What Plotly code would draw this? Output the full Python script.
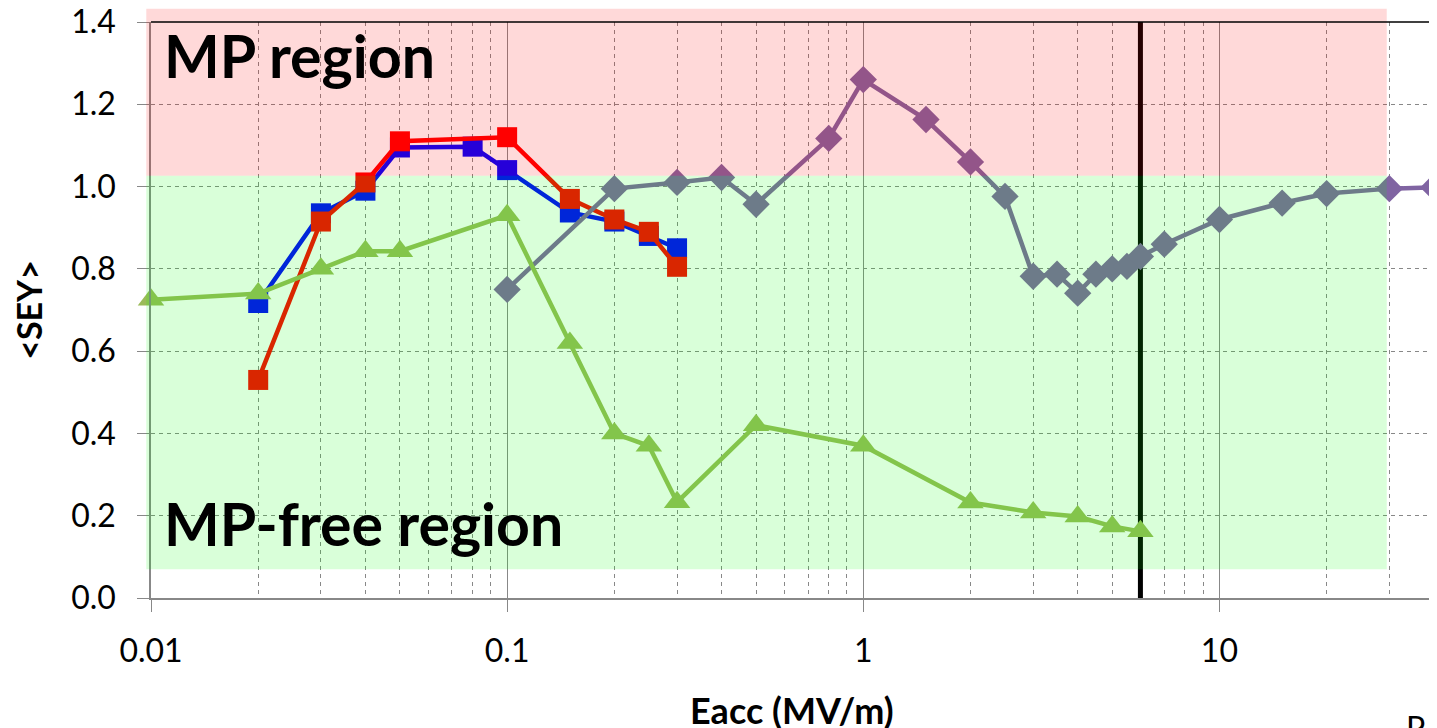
import numpy as np
import plotly.graph_objects as go

# series
x_blue = [0.02, 0.03, 0.04, 0.05, 0.08, 0.1, 0.15, 0.2, 0.25, 0.3]
y_blue = [0.717, 0.935, 0.99, 1.095, 1.097, 1.04, 0.937, 0.915, 0.88, 0.85]

x_red = [0.02, 0.03, 0.04, 0.05, 0.1, 0.15, 0.2, 0.25, 0.3]
y_red = [0.53, 0.915, 1.01, 1.11, 1.12, 0.97, 0.92, 0.89, 0.805]

x_purple = [0.1, 0.2, 0.3, 0.4, 0.5, 0.8, 1, 1.5, 2, 2.5, 3, 3.5, 4, 4.5, 5, 5.5, 6, 7, 10, 15, 20, 30, 40]
y_purple = [0.75, 0.995, 1.01, 1.022, 0.957, 1.117, 1.26, 1.163, 1.06, 0.976, 0.782, 0.787, 0.741,
            0.787, 0.80, 0.806, 0.83, 0.86, 0.92, 0.96, 0.983, 0.995, 0.998]

x_green = [0.01, 0.02, 0.03, 0.04, 0.05, 0.1, 0.15, 0.2, 0.25, 0.3, 0.5, 1, 2, 3, 4, 5, 6]
y_green = [0.725, 0.74, 0.80, 0.843, 0.843, 0.93, 0.62, 0.40, 0.37, 0.233, 0.42, 0.37, 0.232, 0.208, 0.198, 0.174, 0.162]

x_limit = 6            # black vertical line
mp_bounds = [1.026, 1.432]      # MP region (y)
free_bounds = [0.07, 1.026]     # MP-free region (y)
region_x = [0.0097, 29.5]

x_ticks = [0.01, 0.1, 1, 10]
x_ticktext = ["0.01", "0.1", "1", "10"]
x_minor = [m * 10.0 ** e for e in range(-2, 2) for m in range(2, 10) if m * 10.0 ** e <= 40]

xr = [-2, np.log10(40.3)]
yr = [0, 1.4]

W, H = 1437, 728
L, R, T, B = 143, 10, 14, 138
PW, PH = W - L - R, H - T - B
OFF = 8  # page body margin


def xd(v):
    return (np.log10(v) - xr[0]) / (xr[1] - xr[0])


def yd(v):
    return (v - yr[0]) / (yr[1] - yr[0])


def px(xpix):
    return (xpix - OFF - L) / PW


def py(ypix):
    return (H - B - (ypix - OFF)) / PH


fig = go.Figure()
fig.add_trace(go.Scatter(x=[x_limit, x_limit], y=[0, 1.4], mode="lines",
                         line=dict(color="black", width=5), cliponaxis=False))
fig.add_trace(go.Scatter(x=x_blue, y=y_blue, mode="lines+markers", cliponaxis=False,
                         line=dict(color="rgb(0,0,255)", width=4.5),
                         marker=dict(symbol="square", size=20, color="rgb(0,0,255)")))
fig.add_trace(go.Scatter(x=x_red, y=y_red, mode="lines+markers", cliponaxis=False,
                         line=dict(color="rgb(255,0,0)", width=4.5),
                         marker=dict(symbol="square", size=20, color="rgb(255,0,0)")))
fig.add_trace(go.Scatter(x=x_purple, y=y_purple, mode="lines+markers", cliponaxis=False,
                         line=dict(color="#8064A2", width=4.5),
                         marker=dict(symbol="diamond", size=21, color="#8064A2")))
fig.add_trace(go.Scatter(x=x_green, y=y_green, mode="lines+markers", cliponaxis=False,
                         line=dict(color="#9BBB59", width=4.5),
                         marker=dict(symbol="triangle-up", size=23, color="#9BBB59")))

# translucent regions drawn on top of the data
fig.add_shape(type="rect", xref="x domain", yref="y domain",
              x0=xd(region_x[0]), x1=xd(region_x[1]), y0=yd(mp_bounds[0]), y1=yd(mp_bounds[1]),
              fillcolor="rgba(255,0,0,0.15)", line_width=0, layer="above")
fig.add_shape(type="rect", xref="x domain", yref="y domain",
              x0=xd(region_x[0]), x1=xd(region_x[1]), y0=yd(free_bounds[0]), y1=yd(free_bounds[1]),
              fillcolor="rgba(0,255,0,0.15)", line_width=0, layer="above")
# top/right frame
fig.add_shape(type="line", xref="x domain", yref="y domain", x0=0, x1=1, y0=1, y1=1,
              line=dict(color="black", width=1.5))
fig.add_shape(type="line", xref="x domain", yref="y domain", x0=1, x1=1, y0=0, y1=1,
              line=dict(color="black", width=1.5))

fig.add_annotation(text="<b>MP region</b>", xref="x domain", yref="y domain",
                   x=0.0087, y=yd(1.318), xanchor="left", yanchor="middle", showarrow=False,
                   font=dict(family="Lato", size=59, color="black"))
fig.add_annotation(text="<b>MP-free region</b>", xref="x domain", yref="y domain",
                   x=0.0087, y=yd(0.18), xanchor="left", yanchor="middle", showarrow=False,
                   font=dict(family="Lato", size=59, color="black"))
fig.add_annotation(text="<b>Eacc (MV/m)</b>", xref="paper", yref="paper", x=px(792),
                   y=py(710), xanchor="center", yanchor="middle", showarrow=False,
                   font=dict(family="Lato", size=36, color="black"))
fig.add_annotation(text="P", xref="paper", yref="paper", x=px(1404), y=py(706),
                   xanchor="left", yanchor="top", showarrow=False,
                   font=dict(family="Lato", size=32, color="black"))

fig.update_layout(
    width=W, height=H,
    margin=dict(l=L, r=R, t=T, b=B),
    plot_bgcolor="white", paper_bgcolor="white",
    showlegend=False,
    font=dict(family="Lato", color="black"),
)
fig.update_xaxes(
    type="log", range=xr, automargin=False,
    tickvals=x_ticks, ticktext=x_ticktext,
    tickfont=dict(size=32, family="Lato"),
    ticks="outside", ticklen=12, tickcolor="#888", ticklabelstandoff=12,
    ticklabeloverflow="allow",
    showgrid=True, gridcolor="#888", gridwidth=1,
    showline=True, linecolor="#888", linewidth=1.5,
    minor=dict(tickvals=x_minor, showgrid=True, gridcolor="#888", griddash="4px,4px", gridwidth=1, ticks=""),
    zeroline=False,
)
fig.update_yaxes(
    range=yr, dtick=0.2, tickformat=".1f", automargin=False,
    tickfont=dict(size=32, family="Lato"),
    ticks="outside", ticklen=12, tickcolor="#888", ticklabelstandoff=15,
    ticklabeloverflow="allow",
    showgrid=True, gridcolor="#888", griddash="4px,4px", gridwidth=1,
    showline=True, linecolor="#888", linewidth=1.5,
    title=dict(text="<b>&lt;SEY&gt;</b>", font=dict(size=34, family="Lato"), standoff=20),
    zeroline=False,
)

fig.write_html("out.html")
